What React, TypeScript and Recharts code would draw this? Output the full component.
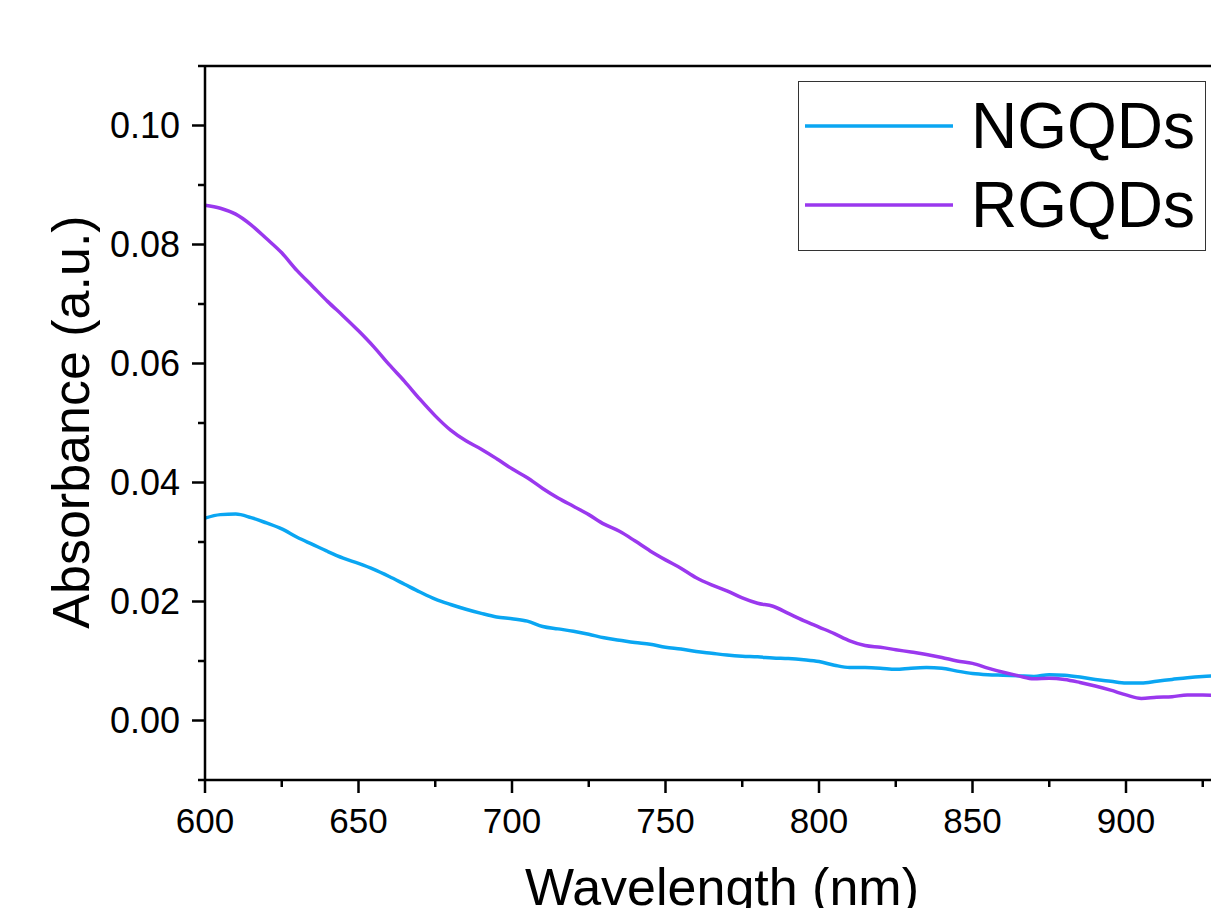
import React from 'react';
import { LineChart, Line, XAxis, YAxis, ReferenceLine, Legend } from 'recharts';

// wavelength grid (nm), 5 nm steps
const wavelengths = [
  600, 605, 610, 615, 620, 625, 630, 635, 640, 645, 650, 655, 660, 665, 670, 675, 680, 685, 690, 695,
  700, 705, 710, 715, 720, 725, 730, 735, 740, 745, 750, 755, 760, 765, 770, 775, 780, 785, 790, 795,
  800, 805, 810, 815, 820, 825, 830, 835, 840, 845, 850, 855, 860, 865, 870, 875, 880, 885, 890, 895,
  900, 905, 910, 915, 920, 925, 930,
];

const ngqds = [
  0.0340, 0.0346, 0.0347, 0.0341, 0.0332, 0.0322, 0.0308, 0.0296, 0.0284, 0.0273, 0.0264, 0.0254, 0.0242, 0.0229, 0.0216, 0.0204, 0.0195, 0.0187, 0.0180, 0.0174,
  0.0171, 0.0167, 0.0158, 0.0154, 0.0150, 0.0145, 0.0139, 0.0135, 0.0131, 0.0128, 0.0123, 0.0120, 0.0116, 0.0113, 0.0110, 0.0108, 0.0107, 0.0105, 0.0104, 0.0102,
  0.0099, 0.0093, 0.0089, 0.0089, 0.0088, 0.0086, 0.0088, 0.0089, 0.0088, 0.0083, 0.0079, 0.0077, 0.0076, 0.0075, 0.0074, 0.0077, 0.0076, 0.0073, 0.0069, 0.0066,
  0.0063, 0.0063, 0.0066, 0.0069, 0.0072, 0.0074, 0.0075,
];

const rgqds = [
  0.0866, 0.0861, 0.0851, 0.0833, 0.0810, 0.0786, 0.0756, 0.0730, 0.0704, 0.0680, 0.0655, 0.0628, 0.0598, 0.0570, 0.0540, 0.0512, 0.0488, 0.0470, 0.0456, 0.0440,
  0.0423, 0.0408, 0.0390, 0.0374, 0.0360, 0.0346, 0.0330, 0.0318, 0.0302, 0.0285, 0.0270, 0.0256, 0.0240, 0.0228, 0.0218, 0.0206, 0.0197, 0.0192, 0.0180, 0.0168,
  0.0157, 0.0146, 0.0134, 0.0126, 0.0123, 0.0119, 0.0115, 0.0111, 0.0106, 0.0100, 0.0096, 0.0088, 0.0081, 0.0075, 0.0070, 0.0071, 0.0069, 0.0064, 0.0058, 0.0051,
  0.0043, 0.0037, 0.0039, 0.0040, 0.0043, 0.0043, 0.0041,
];

// ticks incl. minor ones (labels only on majors)
const xTicks = [600, 625, 650, 675, 700, 725, 750, 775, 800, 825, 850, 875, 900, 925, 950, 975, 1000];
const yTicks = [-0.01, 0, 0.01, 0.02, 0.03, 0.04, 0.05, 0.06, 0.07, 0.08, 0.09, 0.1, 0.11];

const data = wavelengths.map((w, i) => ({ w, NGQDs: ngqds[i], RGQDs: rgqds[i] }));

const FONT = '"Liberation Sans", Arial, sans-serif';

const XTick = (props: any) => {
  const { x, y, payload } = props;
  const major = payload.value % 50 === 0;
  return (
    <g>
      <line x1={x} x2={x} y1={y} y2={y + (major ? 13 : 7)} stroke="#000" strokeWidth={2.5} />
      {major && (
        <text x={x} y={y + 53} textAnchor="middle" fontSize={35} fontFamily={FONT} fill="#000">
          {payload.value}
        </text>
      )}
    </g>
  );
};

const YTick = (props: any) => {
  const { x, y, payload } = props;
  const major = Math.round(payload.value * 100) % 2 === 0;
  return (
    <g>
      <line x1={x - (major ? 13 : 7)} x2={x} y1={y} y2={y} stroke="#000" strokeWidth={2.5} />
      {major && (
        <text x={x - 25} y={y + 12} textAnchor="end" fontSize={36} fontFamily={FONT} fill="#000">
          {payload.value.toFixed(2)}
        </text>
      )}
    </g>
  );
};

const LegendBox = (props: any) => {
  const { payload } = props;
  return (
    <svg width={408} height={170} style={{ display: 'block' }}>
      <rect x={0.5} y={0.5} width={407} height={169} fill="#fff" stroke="#333" strokeWidth={1} />
      {payload.map((p: any, i: number) => (
        <g key={p.value}>
          <line x1={7} x2={155} y1={45 + i * 79} y2={45 + i * 79} stroke={p.color} strokeWidth={3.5} />
          <text x={173} y={67 + i * 79} fontSize={64} fontFamily={FONT} fill="#000">
            {p.value}
          </text>
        </g>
      ))}
    </svg>
  );
};

export default function App() {
  return (
    <div style={{ position: 'absolute', top: 0, left: 0, width: 1211, height: 908, overflow: 'hidden', background: '#fff' }}>
      <LineChart width={1500} height={908} data={data} margin={{ top: 66, right: 67, left: 0, bottom: 0 }}>
        <XAxis
          dataKey="w"
          type="number"
          domain={[600, 1000]}
          ticks={xTicks}
          interval={0}
          height={128}
          tickSize={0}
          tickMargin={0}
          tickLine={false}
          axisLine={{ stroke: '#000', strokeWidth: 2.5 }}
          tick={<XTick />}
          label={{
            content: () => (
              <text x={722} y={905} textAnchor="middle" fontSize={52} fontFamily={FONT} fill="#000">
                Wavelength (nm)
              </text>
            ),
          }}
        />
        <YAxis
          type="number"
          domain={[-0.01, 0.11]}
          ticks={yTicks}
          interval={0}
          width={205}
          tickSize={0}
          tickMargin={0}
          tickLine={false}
          axisLine={{ stroke: '#000', strokeWidth: 2.5 }}
          tick={<YTick />}
          label={{
            content: () => (
              <text
                x={89}
                y={422}
                transform="rotate(-90, 89, 422)"
                textAnchor="middle"
                fontSize={52}
                fontFamily={FONT}
                fill="#000"
              >
                Absorbance (a.u.)
              </text>
            ),
          }}
        />
        <ReferenceLine y={0.11} stroke="#000" strokeWidth={2.5} />
        <ReferenceLine x={1000} stroke="#000" strokeWidth={2.5} />
        <Line type="monotone" dataKey="NGQDs" stroke="#0AA6F2" strokeWidth={3.5} dot={false} isAnimationActive={false} />
        <Line type="monotone" dataKey="RGQDs" stroke="#9A38EE" strokeWidth={3.5} dot={false} isAnimationActive={false} />
        <Legend
          layout="vertical"
          align="center"
          verticalAlign="middle"
          content={<LegendBox />}
          wrapperStyle={{ position: 'absolute', top: 81, left: 798, width: 408, height: 170 }}
        />
      </LineChart>
    </div>
  );
}
